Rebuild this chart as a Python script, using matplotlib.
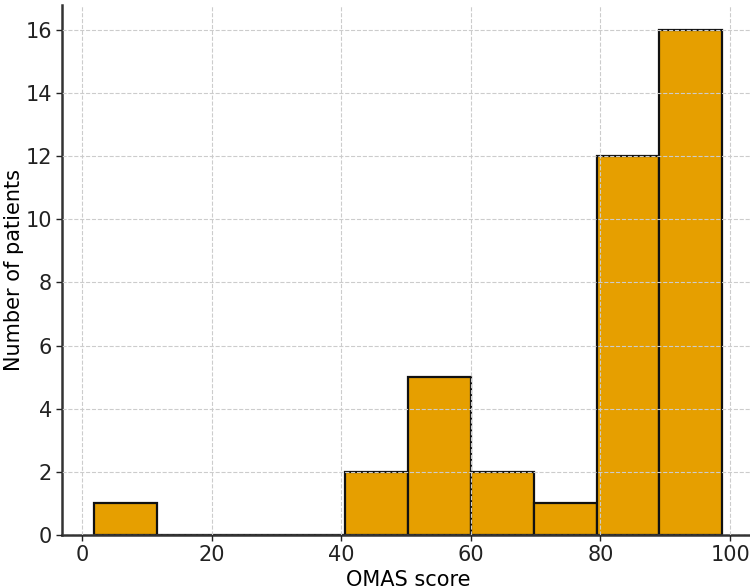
import numpy as np
import matplotlib
matplotlib.use("Agg")
import matplotlib.pyplot as plt

# histogram bins (OMAS score)
bin_edges = [1.8, 11.5, 21.2, 30.9, 40.6, 50.3, 60.0, 69.7, 79.4, 89.1, 98.8]
counts = [1, 0, 0, 0, 2, 5, 2, 1, 12, 16]

bar_color = "#E69F00"

fig = plt.figure(figsize=(7.5, 5.86), dpi=100)
ax = fig.add_axes([0.083, 0.087, 0.922, 0.905])

edges = np.array(bin_edges)
ax.bar(edges[:-1], counts, width=np.diff(edges), align="edge",
       color=bar_color, edgecolor="#111111", linewidth=1.6, zorder=1)

ax.grid(True, linestyle="--", color="#cccccc", linewidth=0.8, zorder=3)
ax.set_axisbelow(False)

ax.set_xticks([0, 20, 40, 60, 80, 100])
ax.set_yticks(range(0, 17, 2))
ax.set_ylim(0, 16.8)

ax.set_xlabel("OMAS score", fontsize=15, labelpad=3)
ax.set_ylabel("Number of patients", fontsize=15, labelpad=1)
ax.tick_params(labelsize=15, direction="out", length=4, width=1, colors="#222222")

for side in ["top", "right"]:
    ax.spines[side].set_visible(False)
for side in ["left", "bottom"]:
    ax.spines[side].set_color("#333333")
    ax.spines[side].set_linewidth(1.8)

fig.savefig("out.png", dpi=100)
